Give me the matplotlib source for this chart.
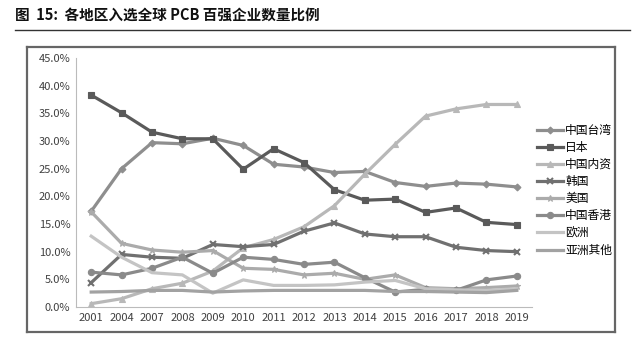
import matplotlib
matplotlib.use("Agg")
import matplotlib.pyplot as plt
from matplotlib.lines import Line2D

plt.rcParams['font.family'] = ['Noto Sans CJK SC', 'DejaVu Sans']

years = ["2001", "2004", "2007", "2008", "2009", "2010", "2011", "2012",
         "2013", "2014", "2015", "2016", "2017", "2018", "2019"]
taiwan = [17.3, 25.0, 29.7, 29.5, 30.5, 29.2, 25.8, 25.3, 24.3, 24.5, 22.5, 21.8, 22.4, 22.2, 21.7]
japan = [38.3, 35.1, 31.6, 30.4, 30.4, 24.9, 28.6, 26.1, 21.2, 19.3, 19.5, 17.1, 17.9, 15.3, 14.9]
mainland = [0.6, 1.5, 3.3, 4.3, 6.5, 10.7, 12.2, 14.5, 18.3, 24.0, 29.4, 34.5, 35.8, 36.6, 36.6]
korea = [4.4, 9.5, 9.0, 8.8, 11.3, 10.9, 11.3, 13.7, 15.2, 13.2, 12.7, 12.7, 10.8, 10.2, 10.0]
usa = [17.2, 11.5, 10.3, 9.9, 10.2, 7.0, 6.8, 5.8, 6.1, 5.0, 5.8, 3.5, 3.3, 3.5, 3.8]
hongkong = [6.3, 5.8, 7.0, 9.0, 6.1, 9.0, 8.6, 7.7, 8.1, 5.3, 2.7, 3.2, 3.0, 4.9, 5.6]
europe = [12.8, 9.0, 6.2, 5.8, 2.5, 4.9, 3.9, 3.9, 4.0, 4.5, 4.8, 3.3, 3.1, 3.0, 3.3]
asia_other = [2.7, 2.8, 3.0, 3.0, 2.7, 2.9, 3.0, 3.0, 3.0, 3.0, 2.8, 2.8, 2.7, 2.6, 3.0]
yticks = [0, 5, 10, 15, 20, 25, 30, 35, 40, 45]

series = [
    ("中国台湾", taiwan, "#8e8e8e", "D", 3.5),
    ("日本", japan, "#5a5a5a", "s", 5),
    ("中国内资", mainland, "#b8b8b8", "^", 4.5),
    ("韩国", korea, "#707070", "x", 4.5),
    ("美国", usa, "#ababab", "*", 4.5),
    ("中国香港", hongkong, "#8a8a8a", "o", 4.5),
    ("欧洲", europe, "#c4c4c4", None, 0),
    ("亚洲其他", asia_other, "#a2a2a2", None, 0),
]

W, H = 640, 342
fig = plt.figure(figsize=(6.4, 3.42), dpi=100)

# title
fig.text(15 / W, 1 - 15 / H, "图  15:  各地区入选全球 PCB 百强企业数量比例",
         fontsize=10.5, fontweight="bold", va="center", ha="left", color="#111111")
fig.add_artist(Line2D([15 / W, 630 / W], [1 - 30 / H, 1 - 30 / H],
                      color="#333333", lw=1.0))

# outer frame box (chart area border), drawn as separate figure lines
fx0, fx1 = 27 / W, 615 / W
fy0, fy1 = 1 - 332 / H, 1 - 47 / H
for xs, ys in [([fx0, fx1], [fy0, fy0]), ([fx0, fx1], [fy1, fy1]),
               ([fx0, fx0], [fy0, fy1]), ([fx1, fx1], [fy0, fy1])]:
    fig.add_artist(Line2D(xs, ys, color="#666666", lw=1.6))

ax = fig.add_axes([76 / W, 1 - 307 / H, (532 - 76) / W, (307 - 58) / H])
x = list(range(len(years)))
for name, vals, color, marker, ms in series:
    ax.plot(x, vals, color=color, lw=2.3, marker=marker, markersize=ms,
            markeredgewidth=1.5 if marker == "x" else 0.8,
            markeredgecolor=color, markerfacecolor=color, label=name)

ax.set_xlim(-0.5, len(years) - 0.5)
ax.set_ylim(0, 45)
ax.set_xticks(x)
ax.set_xticklabels(years, fontsize=8, color="#404040")
ax.set_yticks(yticks)
ax.set_yticklabels([f"{v:.1f}%" for v in yticks], fontsize=8, color="#404040")
ax.tick_params(length=0, pad=4)
for s in ["top", "right"]:
    ax.spines[s].set_visible(False)
ax.spines["left"].set_color("#bbbbbb")
ax.spines["bottom"].set_color("#bbbbbb")

leg = ax.legend(loc="upper left", bbox_to_anchor=(532 / W, 1 - 119 / H),
                bbox_transform=fig.transFigure, frameon=False, fontsize=8.5,
                handlelength=2.2, handletextpad=0.2, labelspacing=0.35,
                borderaxespad=0)

fig.savefig("out.png", dpi=100)
